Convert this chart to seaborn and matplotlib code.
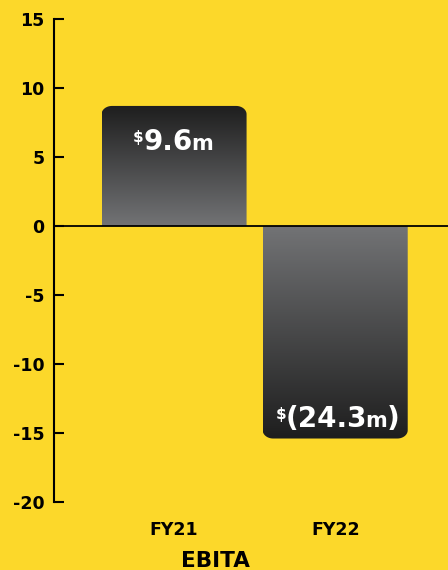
#!/usr/bin/env python3
import matplotlib

matplotlib.use("Agg")
import matplotlib.pyplot as plt
import numpy as np
import pandas as pd
import seaborn as sns
from matplotlib.colors import LinearSegmentedColormap
from matplotlib.patches import PathPatch
from matplotlib.path import Path

l_year = ["FY21", "FY22"]
l_ebita = [8.7, -15.4]
l_label_main = ["9.6", "(24.3"]
l_label_close = ["", ")"]
l_ytick = [-20, -15, -10, -5, 0, 5, 10, 15]

c_back = "#fcd82a"
cmap = LinearSegmentedColormap.from_list("bar", ["#727375", "#1e1e1e"])


def bar_path(x0, x1, y1, rx, ry):
    # rectangle from the zero line to y1, corners rounded at the far end only
    s = np.sign(y1)
    th = np.linspace(0, np.pi / 2, 16)
    right = [(x1 - rx + rx * np.cos(t), y1 - s * ry + s * ry * np.sin(t)) for t in th]
    left = [(x0 + rx - rx * np.cos(t), y1 - s * ry + s * ry * np.sin(t)) for t in th[::-1]]
    verts = [(x0, 0), (x1, 0)] + right + left + [(x0, 0)]
    return Path(verts, closed=True)


def step0() -> None:
    sns.set_style("white")
    plt.rcParams["font.family"] = ["DejaVu Sans"]
    plt.rcParams["font.weight"] = "bold"
    df = pd.DataFrame({"year": l_year, "ebita": l_ebita})

    fig = plt.figure(figsize=(4.48, 5.70), dpi=100, facecolor=c_back)
    ax = fig.add_axes([54 / 448, 1 - 502 / 570, 1 - 54 / 448, (502 - 19) / 570])
    ax.set_facecolor(c_back)
    sns.barplot(data=df, x="year", y="ebita", width=0.9, ax=ax, color="#555555")

    for p, v, s_main, s_close in zip(ax.patches, l_ebita, l_label_main, l_label_close):
        x0, w = p.get_x(), p.get_width()
        p.set_visible(False)
        path = bar_path(x0, x0 + w, v, 0.065, 0.6)
        clip = PathPatch(path, facecolor="none", edgecolor="none", transform=ax.transData)
        ax.add_patch(clip)
        ys = np.linspace(min(0, v), max(0, v), 200)
        grad = (np.abs(ys) / abs(v)).reshape(-1, 1)
        im = ax.imshow(
            grad, cmap=cmap, vmin=0, vmax=1, aspect="auto", origin="lower",
            extent=(x0, x0 + w, min(0, v), max(0, v)), interpolation="bilinear", zorder=2,
        )
        im.set_clip_path(clip)

        cx = x0 + w / 2
        dx = -4 if v > 0 else -6
        y_off = -32 if v > 0 else 8
        t_main = ax.annotate(
            s_main, xy=(cx, v), xytext=(dx, y_off), textcoords="offset points",
            ha="center", va="baseline", color="white", fontsize=20, fontweight="bold", zorder=5,
        )
        ax.annotate(
            "$", xy=(0, 1), xycoords=t_main, xytext=(0, -1), textcoords="offset points",
            ha="right", va="top", color="white", fontsize=11, fontweight="bold", zorder=5,
        )
        t_unit = ax.annotate(
            "m", xy=(1, 0), xycoords=t_main, xytext=(-1.5, 1.5), textcoords="offset points",
            ha="left", va="bottom", color="white", fontsize=15, fontweight="bold", zorder=5,
        )
        if s_close:
            ax.annotate(
                s_close, xy=(1, 0), xycoords=t_unit, xytext=(-0.5, -1.5), textcoords="offset points",
                ha="left", va="bottom", color="white", fontsize=20, fontweight="bold", zorder=5,
            )

    ax.axhline(0, color="black", lw=1.3, zorder=4)
    ax.set_xlim(-0.745, 1.70)
    ax.set_ylim(-20, 15)
    ax.set_yticks(l_ytick)
    ax.set_yticklabels([str(v) for v in l_ytick], fontsize=12.5, fontweight="bold", color="black")
    ax.tick_params(axis="y", left=True, direction="in", length=7, width=1.5, pad=7, colors="black")
    ax.tick_params(axis="x", length=0, pad=14, labelsize=12.5, labelcolor="black")
    for lab in ax.get_xticklabels():
        lab.set_fontweight("bold")
    ax.set_xlabel("EBITA", fontsize=15.5, fontweight="bold", labelpad=8, color="black",
                  x=(215 - 54) / 394)
    ax.set_ylabel("")
    for s in ["top", "right", "bottom"]:
        ax.spines[s].set_visible(False)
    ax.spines["left"].set_linewidth(1.5)
    ax.spines["left"].set_color("black")
    fig.savefig("out.png", facecolor=c_back)


step0()
